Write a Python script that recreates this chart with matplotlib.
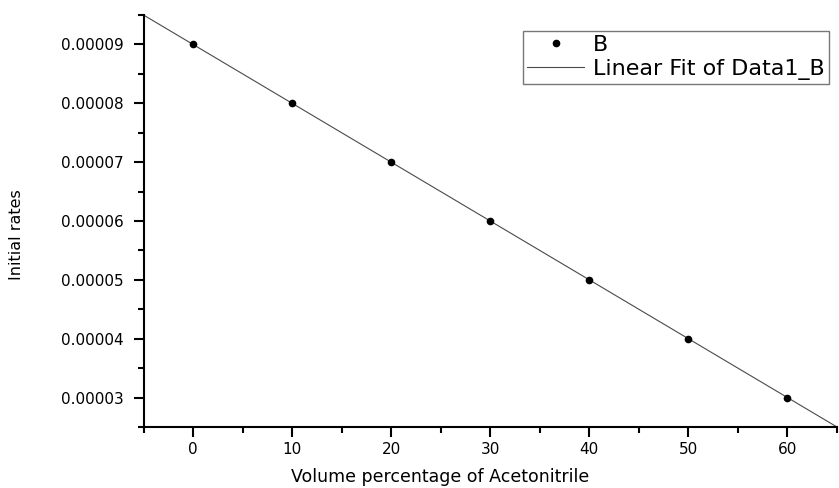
import numpy as np
import matplotlib
matplotlib.use('Agg')
import matplotlib.pyplot as plt
from matplotlib.ticker import MultipleLocator, FormatStrFormatter

# data
volume = [0, 10, 20, 30, 40, 50, 60]
rates = [0.00009, 0.00008, 0.00007, 0.00006, 0.00005, 0.00004, 0.00003]
x_ticks = [0, 10, 20, 30, 40, 50, 60]
y_ticks = [0.00003, 0.00004, 0.00005, 0.00006, 0.00007, 0.00008, 0.00009]
x_limits = (-5, 65)
y_limits = (0.000025, 0.000095)

# linear fit (as in the original software)
coef = np.polyfit(volume, rates, 1)
fit_x = np.linspace(x_limits[0], x_limits[1], 2)
fit_y = np.polyval(coef, fit_x)

plt.rcParams['font.family'] = ['DejaVu Sans']

fig = plt.figure(figsize=(8.39, 4.88), dpi=100)
ax = fig.add_axes([143.5 / 839, 61 / 488, (837 - 143.5) / 839, (427 - 15) / 488])

ax.plot(volume, rates, linestyle='none', marker='o', markersize=4.5,
        color='black', label='B', zorder=3)
ax.plot(fit_x, fit_y, color='#4a4a4a', linewidth=0.8,
        label='Linear Fit of Data1_B', zorder=2, clip_on=False)

ax.set_xlim(*x_limits)
ax.set_ylim(*y_limits)
ax.set_xticks(x_ticks)
ax.set_yticks(y_ticks)
ax.xaxis.set_minor_locator(MultipleLocator(5))
ax.yaxis.set_minor_locator(MultipleLocator(0.000005))
ax.yaxis.set_major_formatter(FormatStrFormatter('%.5f'))

for side in ['top', 'right']:
    ax.spines[side].set_visible(False)
for side in ['left', 'bottom']:
    ax.spines[side].set_linewidth(1.5)

ax.tick_params(which='major', direction='out', length=7, width=1.5, labelsize=11)
ax.tick_params(which='minor', direction='out', length=4.5, width=1.5)
ax.tick_params(axis='y', which='major', pad=7)
ax.tick_params(axis='x', which='major', pad=4)

ax.set_ylabel('Initial rates', fontsize=11.5)
ax.yaxis.set_label_coords(-0.172, 0.467)
ax.set_xlabel('Volume percentage of Acetonitrile', fontsize=12.5)
ax.xaxis.set_label_coords(0.4276, -0.1)

leg = ax.legend(loc='upper left', bbox_to_anchor=(522.7 / 839, 1 - 30.7 / 488),
                bbox_transform=fig.transFigure, fontsize=16, frameon=True,
                fancybox=False, borderaxespad=0, borderpad=0.18,
                labelspacing=0.2, handlelength=2.6, handletextpad=0.4,
                numpoints=1)
leg.get_frame().set_edgecolor('#555555')
leg.get_frame().set_linewidth(1.0)

fig.savefig('out.png', dpi=100)
